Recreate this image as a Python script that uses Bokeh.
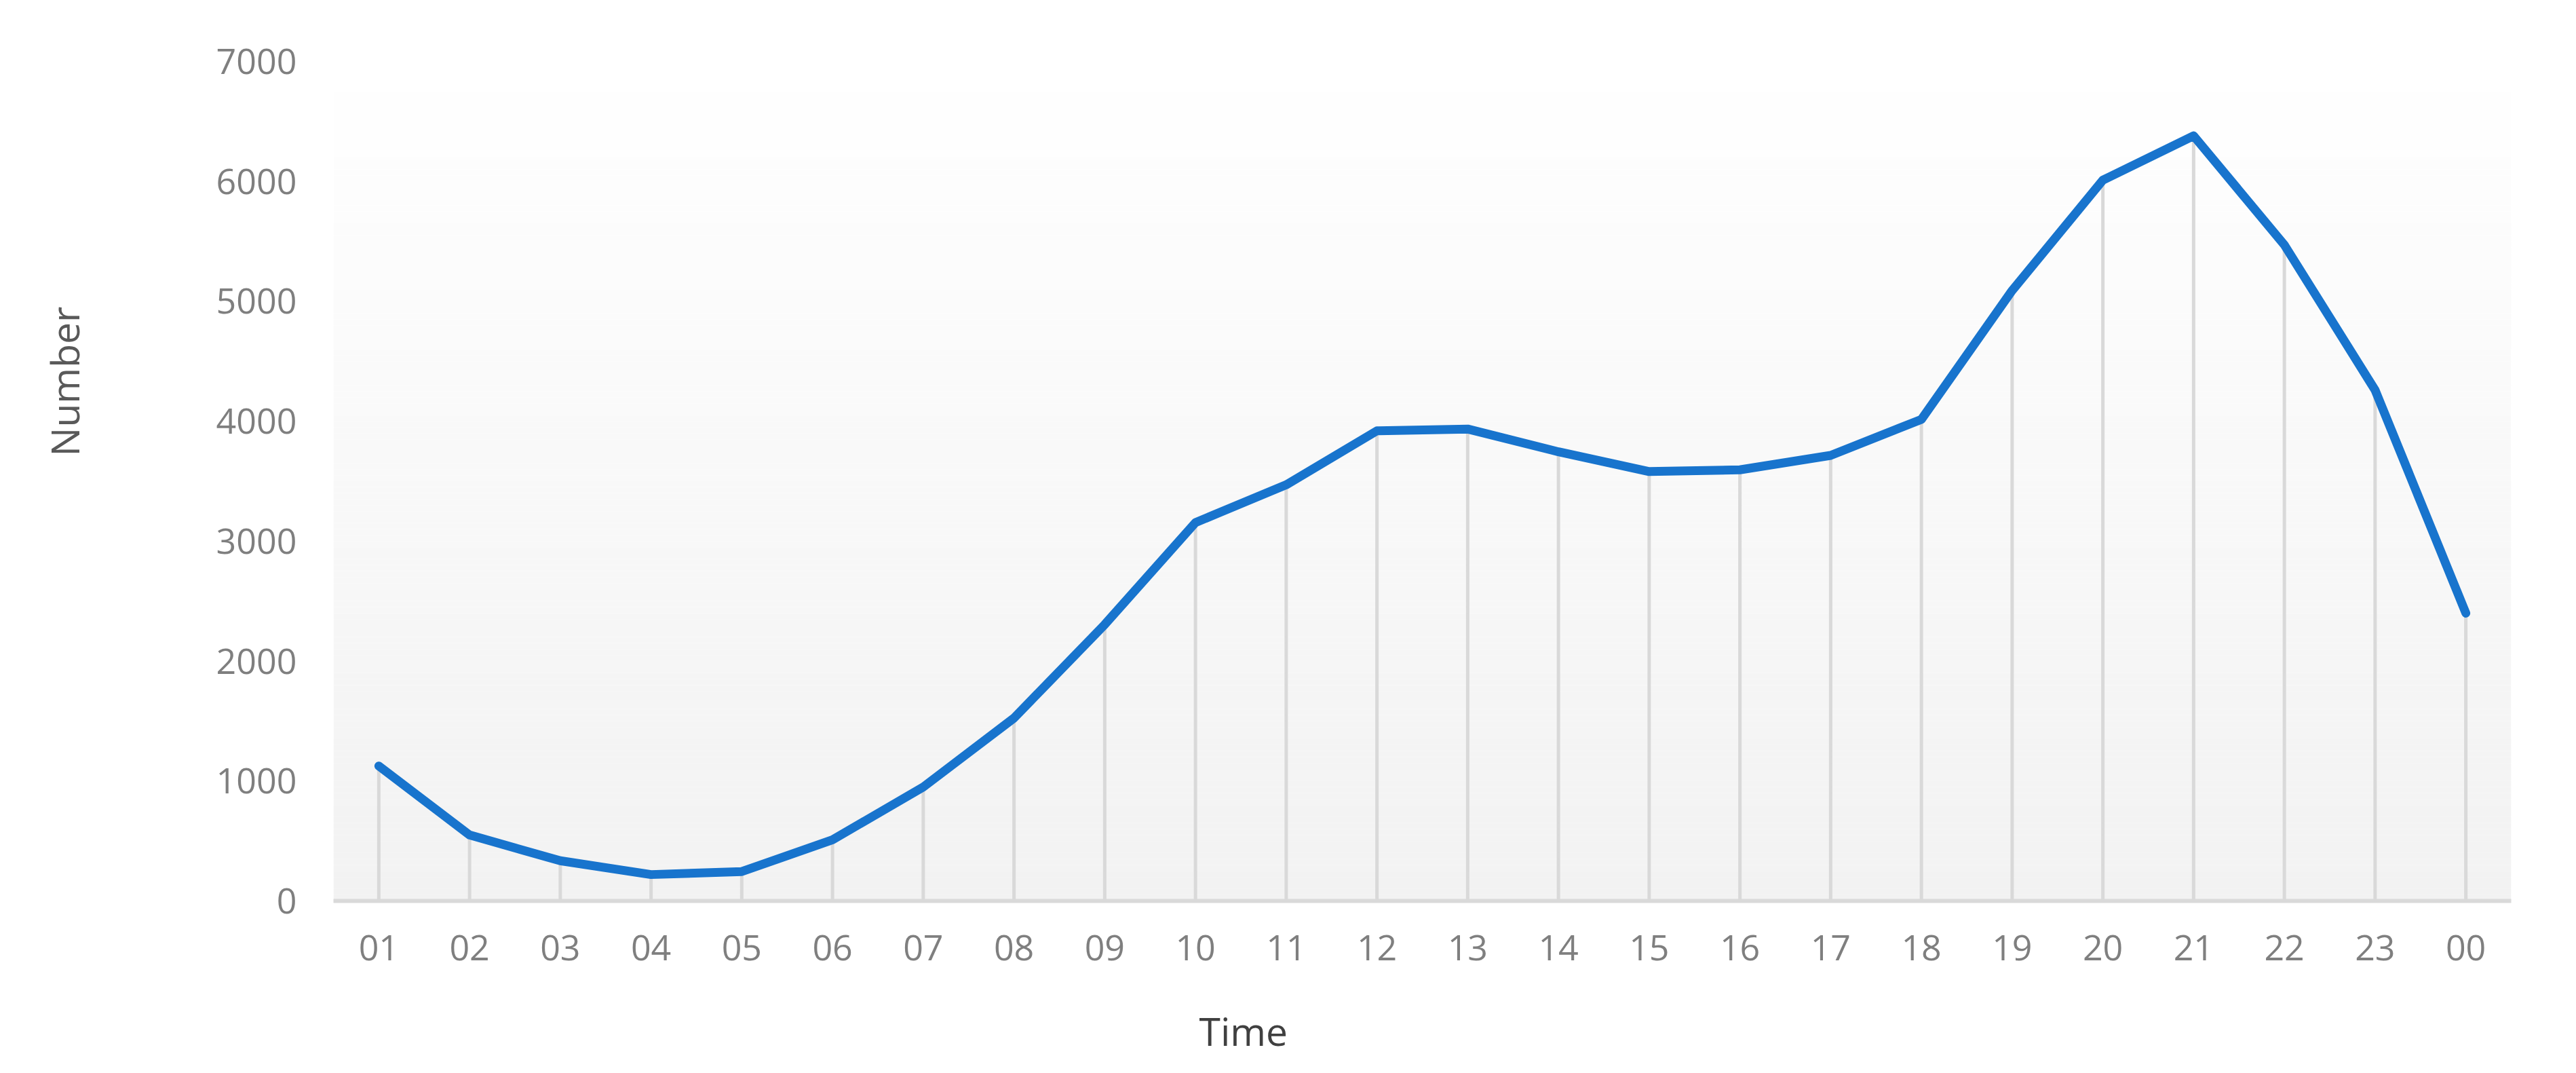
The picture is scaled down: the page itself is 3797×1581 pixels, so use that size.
from bokeh.plotting import figure
from bokeh.models import (FactorRange, Range1d, FixedTicker, BoxAnnotation, LinearAxis,
                          Title, ColumnDataSource)
from bokeh.embed import file_html
from bokeh.resources import INLINE

# ---- data ----
hours = ["01", "02", "03", "04", "05", "06", "07", "08", "09", "10", "11", "12",
         "13", "14", "15", "16", "17", "18", "19", "20", "21", "22", "23", "00"]
counts = [1125, 550, 335, 220, 245, 510, 950, 1525, 2305, 3155, 3470, 3920,
          3935, 3745, 3580, 3595, 3715, 4015, 5090, 6010, 6380, 5470, 4260, 2400]
y_ticks = [0, 1000, 2000, 3000, 4000, 5000, 6000, 7000]
y_max = 7000
x_title = "Time"
y_title = "Number"

FONT = "Open Sans"
TICK_COLOR = "#7f7f7f"
LINE_COLOR = "#1874cd"
DROP_COLOR = "#d9d9d9"

p = figure(
    width=3780, height=1564,
    x_range=FactorRange(factors=hours, range_padding=0),
    y_range=Range1d(0, y_max),
    output_backend="svg", toolbar_location=None, tools="",
    min_border_left=491, min_border_right=79, min_border_top=90, min_border_bottom=237,
)
p.outline_line_color = None
p.background_fill_color = "white"
p.border_fill_color = "white"
p.xgrid.grid_line_color = None
p.ygrid.grid_line_color = None

# gradient background of the plot area (white at top -> #f2f2f2 at bottom)
n_strips = 140
step = y_max / n_strips
for i in range(n_strips):
    b = i * step
    t = (i + 1) * step
    frac = (i + 0.5) / n_strips
    c = round(242 + (255 - 242) * frac)
    col = "#%02x%02x%02x" % (c, c, c)
    p.add_layout(BoxAnnotation(bottom=b, top=t, fill_color=col, fill_alpha=1.0,
                               line_color=None, level="underlay"))

src = ColumnDataSource(dict(hour=hours, count=counts, zero=[0] * len(hours)))

# drop lines
p.segment(x0="hour", y0="zero", x1="hour", y1="count", source=src,
          line_color=DROP_COLOR, line_width=5)
# main line
p.line(x="hour", y="count", source=src, line_color=LINE_COLOR, line_width=13,
       line_join="round", line_cap="round")

# main axes
ya = p.yaxis[0]
ya.ticker = FixedTicker(ticks=y_ticks)
ya.axis_line_color = None
ya.major_tick_line_color = None
ya.minor_tick_line_color = None
ya.major_tick_out = 0
ya.major_tick_in = 0
ya.major_label_standoff = 54
ya.major_label_text_font = FONT
ya.major_label_text_font_size = "52px"
ya.major_label_text_color = TICK_COLOR

xa = p.xaxis[0]
xa.axis_line_color = DROP_COLOR
xa.axis_line_width = 6
xa.major_tick_line_color = None
xa.minor_tick_line_color = None
xa.major_tick_out = 0
xa.major_tick_in = 0
xa.major_label_standoff = 50
xa.major_label_text_font = FONT
xa.major_label_text_font_size = "52px"
xa.major_label_text_color = TICK_COLOR

# ---- x title: spacer + title offset left of center as in the reference ----
p.add_layout(Title(text=" ", text_font_size="1px", standoff=57), "below")
p.add_layout(Title(text=x_title, text_font=FONT, text_font_size="57px",
                   text_color="#404040", text_font_style="normal",
                   align="left", offset=1276, standoff=0), "below")

# ---- y title: bare spacer axis + title placed above center as in the reference ----
y_spacer = LinearAxis(ticker=FixedTicker(ticks=[]), axis_line_color=None,
                      major_tick_line_color=None, minor_tick_line_color=None,
                      major_tick_out=0, major_tick_in=0, minor_tick_out=0,
                      major_label_standoff=0, major_label_text_font_size="0px",
                      axis_label=" ", axis_label_text_font_size="1px",
                      axis_label_standoff=178)
p.add_layout(y_spacer, "left")
p.add_layout(Title(text=y_title, text_font=FONT, text_font_size="57px",
                   text_color="#595959", text_font_style="normal",
                   align="left", offset=655, standoff=0), "left")

open("out.html", "w").write(file_html(p, INLINE))
